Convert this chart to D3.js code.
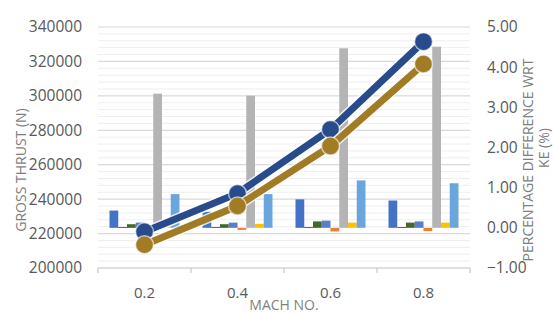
<!DOCTYPE html>
<html>
<head>
<meta charset="utf-8">
<script src="https://cdn.jsdelivr.net/npm/d3@7"></script>
<style>
  body { margin: 0; background: #fff; }
  text { font-family: "Open Sans", sans-serif; fill: #595959; }
</style>
</head>
<body>
<div id="container"></div>
<script>
// categories (mach no.)
let categories = ["0.2", "0.4", "0.6", "0.8"];
// bar series, percentage difference wrt KE (%) - right axis
let series1 = [0.43, 0.40, 0.71, 0.68];
let series2 = [0.02, 0.02, 0.02, 0.02];
let series3 = [0.09, 0.09, 0.16, 0.13];
let series4 = [0.13, 0.13, 0.18, 0.16];
let series5 = [-0.05, -0.05, -0.09, -0.08];
let series6 = [3.34, 3.29, 4.47, 4.51];
let series7 = [0.10, 0.10, 0.13, 0.13];
let series8 = [0.84, 0.84, 1.18, 1.11];
// line series, gross thrust (N) - left axis
let thrustA = [221000, 243300, 280500, 331500];
let thrustB = [213500, 236000, 270800, 318500];
// tick labels
let leftTicks = [200000, 220000, 240000, 260000, 280000, 300000, 320000, 340000];
let rightTicks = [-1, 0, 1, 2, 3, 4, 5];

let barSeries = [series1, series2, series3, series4, series5, series6, series7, series8];
let barColors = ["#4472c4", "#264478", "#43682b", "#5b7fc6", "#ed7d31", "#b4b4b4", "#ffc000", "#6aa5dc"];

let width = 554, height = 314;
let plotLeft = 98, plotRight = 470, plotTop = 27, plotBottom = 268;

let svg = d3.select("#container")
    .append("svg")
    .attr("width", width)
    .attr("height", height);

svg.append("rect").attr("width", width).attr("height", height).attr("fill", "#fff");

let x0 = d3.scaleBand().domain(categories).range([plotLeft, plotRight]);
let x1 = d3.scaleBand().domain(d3.range(barSeries.length)).range([11.5, 81.5]);
let yL = d3.scaleLinear().domain([200000, 340000]).range([plotBottom, plotTop]);
let yR = d3.scaleLinear().domain([-1, 5]).range([plotBottom, plotTop]);

// minor gridlines
svg.append("g")
    .selectAll("line")
    .data(d3.range(200000, 340001, 4000).filter(v => v % 20000 != 0))
    .enter()
    .append("line")
    .attr("x1", plotLeft).attr("x2", plotRight)
    .attr("y1", d => yL(d)).attr("y2", d => yL(d))
    .attr("stroke", "#eeeeee")
    .attr("stroke-width", 1);

// major gridlines
svg.append("g")
    .selectAll("line")
    .data(leftTicks.slice(1))
    .enter()
    .append("line")
    .attr("x1", plotLeft).attr("x2", plotRight)
    .attr("y1", d => yL(d)).attr("y2", d => yL(d))
    .attr("stroke", "#d9d9d9")
    .attr("stroke-width", 1.2);

// bars
let barData = [];
categories.forEach((c, ci) => {
    barSeries.forEach((s, si) => barData.push({ cat: c, i: si, v: s[ci] }));
});
svg.append("g")
    .selectAll("rect")
    .data(barData)
    .enter()
    .append("rect")
    .attr("x", d => x0(d.cat) + x1(d.i))
    .attr("width", x1.bandwidth())
    .attr("y", d => yR(Math.max(0, d.v)))
    .attr("height", d => Math.abs(yR(d.v) - yR(0)))
    .attr("fill", d => barColors[d.i]);

// bottom axis
let xAxis = svg.append("g").attr("transform", "translate(0," + plotBottom + ")");
xAxis.append("line").attr("x1", plotLeft).attr("x2", plotRight).attr("stroke", "#bfbfbf").attr("stroke-width", 1.2);
xAxis.selectAll(".tk")
    .data(d3.range(categories.length + 1))
    .enter()
    .append("line")
    .attr("x1", i => plotLeft + i * x0.step()).attr("x2", i => plotLeft + i * x0.step())
    .attr("y1", 0).attr("y2", 5)
    .attr("stroke", "#bfbfbf");
xAxis.selectAll("text")
    .data(categories)
    .enter()
    .append("text")
    .attr("x", d => x0(d) + x0.bandwidth() / 2)
    .attr("y", 30)
    .attr("text-anchor", "middle")
    .attr("font-size", "15px")
    .text(d => d);

// left tick labels
svg.append("g")
    .selectAll("text")
    .data(leftTicks)
    .enter()
    .append("text")
    .attr("x", 82)
    .attr("y", d => yL(d))
    .attr("dy", "0.35em")
    .attr("text-anchor", "end")
    .attr("font-size", "15.5px")
    .text(d => d);

// right tick labels
svg.append("g")
    .selectAll("text")
    .data(rightTicks)
    .enter()
    .append("text")
    .attr("x", 487)
    .attr("y", d => yR(d))
    .attr("dy", "0.35em")
    .attr("text-anchor", "start")
    .attr("font-size", "15.5px")
    .text(d => d3.format(".2f")(d));

// lines
let line = d3.line()
    .x((d, i) => x0(categories[i]) + x0.bandwidth() / 2)
    .y(d => yL(d));

function drawLine(values, color) {
    let g = svg.append("g");
    g.append("path").attr("d", line(values)).attr("fill", "none")
        .attr("stroke", "#fff").attr("stroke-width", 10).attr("stroke-opacity", 0.8);
    g.append("path").attr("d", line(values)).attr("fill", "none")
        .attr("stroke", color).attr("stroke-width", 7);
    g.selectAll("circle")
        .data(values)
        .enter()
        .append("circle")
        .attr("cx", (d, i) => x0(categories[i]) + x0.bandwidth() / 2)
        .attr("cy", d => yL(d))
        .attr("r", 9)
        .attr("fill", color)
        .attr("stroke", "#fff")
        .attr("stroke-opacity", 0.6)
        .attr("stroke-width", 1.5);
}
drawLine(thrustA, "#284b8c");
drawLine(thrustB, "#a27c25");

// axis titles
svg.append("text")
    .attr("transform", "translate(26,170) rotate(-90)")
    .attr("text-anchor", "middle")
    .attr("font-size", "14px")
    .style("fill", "#7f7f7f")
    .text("GROSS THRUST (N)");

let rt = svg.append("text")
    .attr("transform", "translate(533,160) rotate(-90)")
    .attr("text-anchor", "middle")
    .attr("font-size", "14px")
    .style("fill", "#7f7f7f");
rt.append("tspan").attr("x", 0).attr("dy", 0).text("PERCENTAGE DIFFERENCE WRT");
rt.append("tspan").attr("x", 12).attr("dy", "1.15em").text("KE (%)");

svg.append("text")
    .attr("x", 284)
    .attr("y", 310)
    .attr("text-anchor", "middle")
    .attr("font-size", "14px")
    .style("fill", "#7f7f7f")
    .text("MACH NO.");
</script>
</body>
</html>
